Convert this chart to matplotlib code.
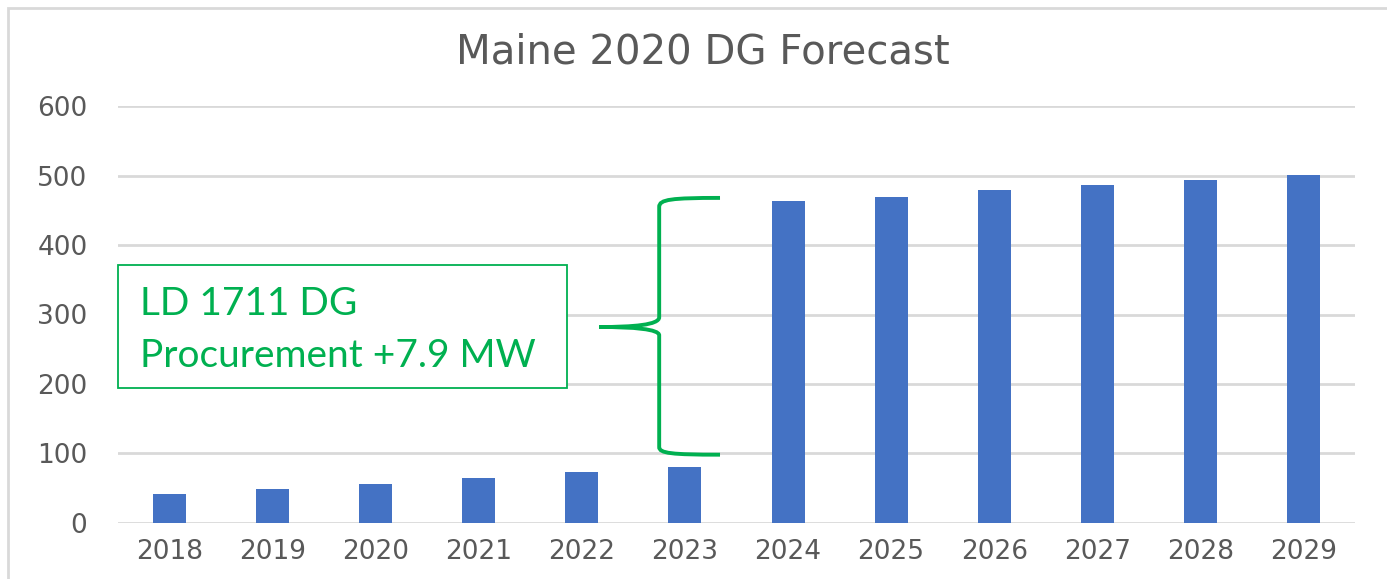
import matplotlib
matplotlib.use("Agg")
import matplotlib.pyplot as plt
from matplotlib.path import Path
from matplotlib.patches import PathPatch, Rectangle

# data
years = ["2018", "2019", "2020", "2021", "2022", "2023",
         "2024", "2025", "2026", "2027", "2028", "2029"]
dg_mw = [42, 49, 56, 65, 73, 80, 463, 470, 479, 487, 494, 501]
y_ticks = [0, 100, 200, 300, 400, 500, 600]

title = "Maine 2020 DG Forecast"
note_lines = ["LD 1711 DG", "Procurement +7.9 MW"]

# brace (data coords: x in category index, y in MW)
brace_x = 4.75
brace_tip_x = 5.34
brace_point_x = 4.17
brace_top = 468
brace_bottom = 98
brace_mid = 282

BAR = "#4472C4"
GRID = "#D9D9D9"
TEXT = "#595959"
GREEN = "#00B050"

W, H = 1387, 579
fig = plt.figure(figsize=(W / 100, H / 100), dpi=100)
ax = fig.add_axes([118 / W, 56.3 / H, (1355 - 118) / W, (522.7 - 106.3) / H])

x = list(range(len(years)))
ax.bar(x, dg_mw, width=0.32, color=BAR, zorder=3)

ax.set_xlim(-0.5, len(years) - 0.5)
ax.set_ylim(0, 600)
ax.set_yticks(y_ticks)
ax.set_xticks(x)
ax.set_xticklabels(years)
ax.grid(axis="y", color=GRID, linewidth=2, zorder=0)
for s in ax.spines.values():
    s.set_visible(False)
ax.tick_params(axis="both", length=0, labelsize=19, labelcolor=TEXT)
ax.tick_params(axis="y", pad=22)
ax.tick_params(axis="x", pad=12)

fig.text(703 / W, 1 - 52 / H, title, ha="center", va="center",
         fontsize=29, color=TEXT)

# brace
verts = [
    (brace_tip_x, brace_top),
    (brace_x + 0.12, brace_top), (brace_x, brace_top - 2), (brace_x, brace_top - 13),
    (brace_x, brace_mid + 14),
    (brace_x, brace_mid + 3), (brace_x - 0.25, brace_mid), (brace_point_x, brace_mid),
    (brace_x - 0.25, brace_mid), (brace_x, brace_mid - 3), (brace_x, brace_mid - 12),
    (brace_x, brace_bottom + 11),
    (brace_x, brace_bottom + 2), (brace_x + 0.12, brace_bottom), (brace_tip_x, brace_bottom),
]
codes = [Path.MOVETO,
         Path.CURVE4, Path.CURVE4, Path.CURVE4,
         Path.LINETO,
         Path.CURVE4, Path.CURVE4, Path.CURVE4,
         Path.CURVE4, Path.CURVE4, Path.CURVE4,
         Path.LINETO,
         Path.CURVE4, Path.CURVE4, Path.CURVE4]
ax.add_patch(PathPatch(Path(verts, codes), fill=False, edgecolor=GREEN,
                       linewidth=2.8, zorder=4, clip_on=False))

# note box
fig.patches.append(Rectangle((118 / W, 1 - 388 / H), (567 - 118) / W, (388 - 265) / H,
                             transform=fig.transFigure, fill=True, facecolor="white",
                             edgecolor=GREEN, linewidth=1.3, zorder=5))
fig.text(140 / W, 1 - 315 / H, note_lines[0], ha="left", va="baseline",
         fontsize=28, color=GREEN, family="Lato", zorder=6)
fig.text(140 / W, 1 - 367 / H, note_lines[1], ha="left", va="baseline",
         fontsize=28, color=GREEN, family="Lato", zorder=6)

# outer frame
fig.patches.append(Rectangle((8 / W, -0.1), 1.2, 1 - 8 / H + 0.1,
                             transform=fig.transFigure, fill=False,
                             edgecolor="#D9D9D9", linewidth=2, zorder=0))

fig.savefig("out.png", dpi=100)
